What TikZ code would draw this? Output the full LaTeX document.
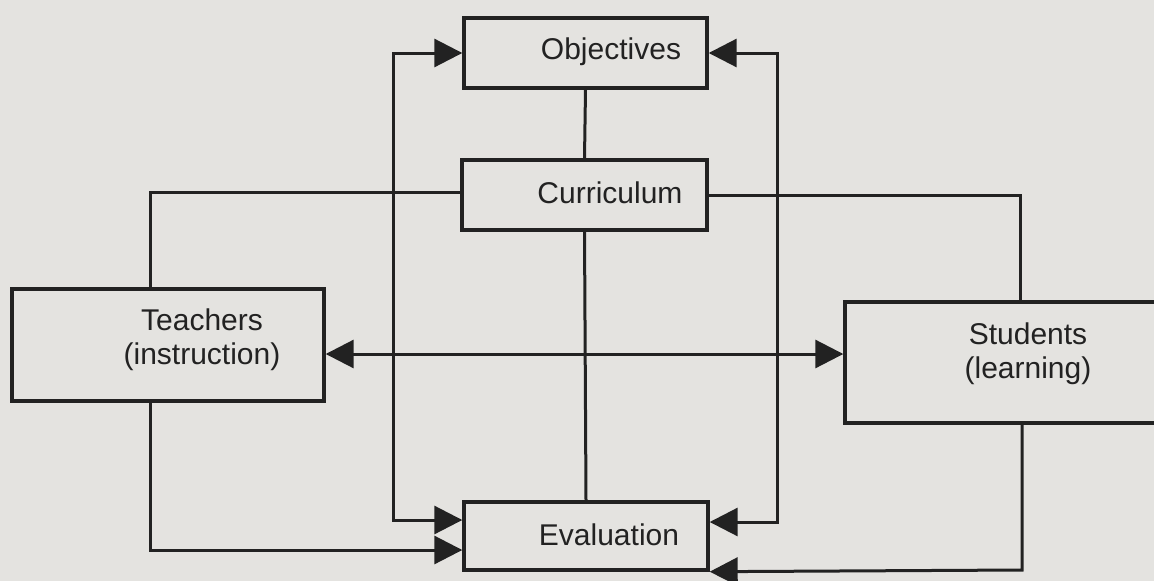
\documentclass[tikz,border=0pt]{standalone}
\usepackage{fontspec}
\setmainfont{Liberation Sans}
\usetikzlibrary{arrows.meta}
\definecolor{paper}{HTML}{E4E3E0}
\definecolor{ink}{HTML}{222222}
\begin{document}
\begin{tikzpicture}[x=1pt,y=-1pt,
  box/.style={draw=ink,line width=3.4pt,rectangle,inner sep=0pt},
  lbl/.style={text=ink,font=\fontsize{30}{34}\selectfont,align=center,inner sep=0pt},
  link/.style={draw=ink,line width=3pt},
  tip/.style={-{Triangle[length=28pt,width=28pt]}},
  tips/.style={{Triangle[length=28pt,width=28pt]}-{Triangle[length=28pt,width=28pt]}}]
  % page
  \fill[paper] (0,0) rectangle (1154,581);
  \useasboundingbox (0,0) rectangle (1154,581);

  % boxes
  \node[box,minimum width=243pt,minimum height=70pt] (obj) at (585.5,53) {};
  \node[box,minimum width=245pt,minimum height=70pt] (cur) at (584.5,195) {};
  \node[box,minimum width=244pt,minimum height=68pt] (eva) at (586,536) {};
  \node[box,minimum width=312pt,minimum height=112pt] (tea) at (168,345) {};
  \node[box,minimum width=320pt,minimum height=121pt] (stu) at (1005,362.5) {};

  % labels
  \node[lbl] (objT) at (611,52) {Objectives};
  \node[lbl] (curT) at (610,193) {Curriculum};
  \node[lbl] (evaT) at (609,535) {Evaluation};
  \node[lbl] (teaT) at (202,340) {Teachers\\(instruction)};
  \node[lbl] (stuT) at (1028,354) {Students\\(learning)};

  % routing points
  \coordinate (lt) at (393,53);
  \coordinate (lb) at (393,520);
  \coordinate (rt) at (777,53);
  \coordinate (rb) at (777,522);
  \coordinate (tc) at (150,192);
  \coordinate (tb) at (150,550);
  \coordinate (sc) at (1020,195);
  \coordinate (sb) at (1022,570);
  \coordinate (mid) at (0,354);

  % central spine
  \draw[link] (obj.south) -- (cur.north);
  \draw[link] (cur.south) -- (eva.north);

  % objectives / evaluation loops
  \draw[link,tips] (obj.west) -- (lt) -- (lb) -- (eva.west|-lb);
  \draw[link,tips] (obj.east) -- (rt) -- (rb) -- (eva.east|-rb);

  % curriculum to teachers and students
  \draw[link] (cur.west|-tc) -- (tc) -- (tc|-tea.north);
  \draw[link] (cur.east|-sc) -- (sc) -- (sc|-stu.north);

  % teachers and students to evaluation
  \draw[link,tip] (tb|-tea.south) -- (tb) -- (eva.west|-tb);
  \draw[link,tip] (sb|-stu.south) -- (sb) -- (eva.south east);

  % teachers <-> students
  \draw[link,tips] (tea.east|-mid) -- (stu.west|-mid);
\end{tikzpicture}
\end{document}
